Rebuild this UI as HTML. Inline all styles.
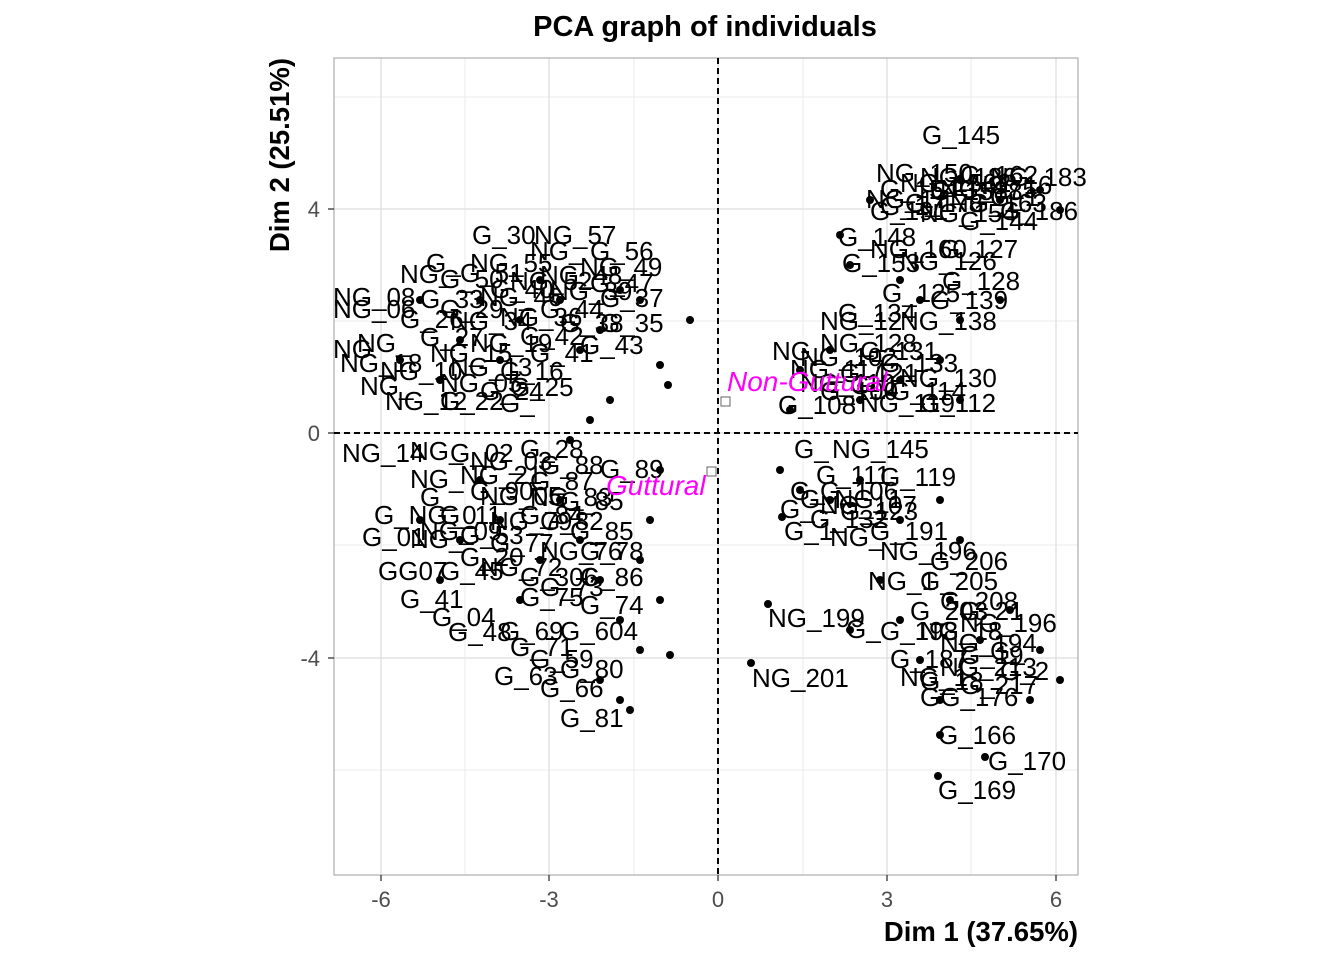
<!DOCTYPE html>
<html><head><meta charset="utf-8"><style>
body{margin:0;background:#fff}
svg{display:block;font-family:"Liberation Sans",Arial,sans-serif}
.l{font-size:26px;fill:#000}
.t{font-size:22px;fill:#4d4d4d}
</style></head><body>
<svg width="1344" height="960" viewBox="0 0 1344 960" xmlns="http://www.w3.org/2000/svg">
<rect width="1344" height="960" fill="#fff"/>
<g stroke="#ebebeb" stroke-width="1">
<line x1="465" y1="58" x2="465" y2="875"/><line x1="634" y1="58" x2="634" y2="875"/><line x1="803" y1="58" x2="803" y2="875"/><line x1="971" y1="58" x2="971" y2="875"/>
<line x1="334" y1="97" x2="1078" y2="97"/><line x1="334" y1="321" x2="1078" y2="321"/><line x1="334" y1="545" x2="1078" y2="545"/><line x1="334" y1="770" x2="1078" y2="770"/>
</g>
<g stroke="#dedede" stroke-width="1.3">
<line x1="381" y1="58" x2="381" y2="875"/><line x1="549" y1="58" x2="549" y2="875"/><line x1="718" y1="58" x2="718" y2="875"/><line x1="887" y1="58" x2="887" y2="875"/><line x1="1056" y1="58" x2="1056" y2="875"/>
<line x1="334" y1="209" x2="1078" y2="209"/><line x1="334" y1="433" x2="1078" y2="433"/><line x1="334" y1="658" x2="1078" y2="658"/>
</g>
<rect x="334" y="58" width="744" height="817" fill="none" stroke="#b3b3b3" stroke-width="1.3"/>
<g stroke="#000" stroke-width="2" stroke-dasharray="6,4">
<line x1="718" y1="58" x2="718" y2="875"/><line x1="334" y1="433" x2="1078" y2="433"/>
</g>
<g fill="#000">
<circle cx="690" cy="320" r="4"/><circle cx="668" cy="385" r="4"/><circle cx="660" cy="365" r="4"/><circle cx="640" cy="300" r="4"/><circle cx="620" cy="290" r="4"/><circle cx="600" cy="330" r="4"/><circle cx="580" cy="350" r="4"/><circle cx="560" cy="300" r="4"/><circle cx="540" cy="280" r="4"/><circle cx="520" cy="320" r="4"/><circle cx="500" cy="360" r="4"/><circle cx="480" cy="300" r="4"/><circle cx="460" cy="340" r="4"/><circle cx="440" cy="380" r="4"/><circle cx="420" cy="300" r="4"/><circle cx="400" cy="360" r="4"/><circle cx="590" cy="420" r="4"/><circle cx="610" cy="400" r="4"/><circle cx="570" cy="440" r="4"/>
<circle cx="660" cy="470" r="4"/><circle cx="650" cy="520" r="4"/><circle cx="640" cy="560" r="4"/><circle cx="660" cy="600" r="4"/><circle cx="670" cy="655" r="4"/><circle cx="640" cy="650" r="4"/><circle cx="620" cy="620" r="4"/><circle cx="600" cy="580" r="4"/><circle cx="580" cy="540" r="4"/><circle cx="560" cy="500" r="4"/><circle cx="540" cy="560" r="4"/><circle cx="520" cy="600" r="4"/><circle cx="500" cy="520" r="4"/><circle cx="480" cy="480" r="4"/><circle cx="460" cy="540" r="4"/><circle cx="440" cy="580" r="4"/><circle cx="420" cy="520" r="4"/><circle cx="620" cy="700" r="4"/><circle cx="600" cy="680" r="4"/><circle cx="630" cy="710" r="4"/>
<circle cx="768" cy="604" r="4"/><circle cx="751" cy="663" r="4"/><circle cx="780" cy="470" r="4"/><circle cx="782" cy="517" r="4"/><circle cx="800" cy="490" r="4"/><circle cx="830" cy="500" r="4"/><circle cx="860" cy="480" r="4"/><circle cx="900" cy="520" r="4"/><circle cx="940" cy="500" r="4"/><circle cx="960" cy="540" r="4"/><circle cx="790" cy="410" r="4"/><circle cx="800" cy="370" r="4"/><circle cx="830" cy="350" r="4"/><circle cx="860" cy="400" r="4"/><circle cx="900" cy="380" r="4"/><circle cx="940" cy="360" r="4"/><circle cx="960" cy="400" r="4"/><circle cx="840" cy="235" r="4"/><circle cx="850" cy="265" r="4"/><circle cx="870" cy="200" r="4"/><circle cx="900" cy="280" r="4"/><circle cx="920" cy="300" r="4"/><circle cx="960" cy="320" r="4"/><circle cx="1000" cy="300" r="4"/><circle cx="960" cy="180" r="4"/><circle cx="1000" cy="200" r="4"/><circle cx="1040" cy="190" r="4"/><circle cx="1060" cy="210" r="4"/>
<circle cx="880" cy="580" r="4"/><circle cx="900" cy="620" r="4"/><circle cx="920" cy="660" r="4"/><circle cx="950" cy="600" r="4"/><circle cx="980" cy="640" r="4"/><circle cx="1010" cy="610" r="4"/><circle cx="1040" cy="650" r="4"/><circle cx="1060" cy="680" r="4"/><circle cx="1030" cy="700" r="4"/><circle cx="940" cy="700" r="4"/><circle cx="940" cy="735" r="4"/><circle cx="985" cy="757" r="4"/><circle cx="938" cy="776" r="4"/><circle cx="850" cy="630" r="4"/>
</g>
<g class="l">
<text x="922" y="144">G_145</text>
<text x="876" y="182">NG_150</text><text x="920" y="186">NG_186</text><text x="960" y="184">G_162</text><text x="990" y="186">NG_183</text><text x="880" y="198">G_154</text><text x="940" y="198">NG_175</text><text x="1000" y="220">G_186</text><text x="866" y="208">NG_17</text><text x="905" y="212">G_178</text><text x="950" y="212">NG_163</text><text x="870" y="220">G_191</text><text x="960" y="230">G_144</text>
<text x="900" y="192">NG_1562</text><text x="930" y="200">G_1588</text><text x="970" y="194">NG_16</text><text x="880" y="215">G_17</text><text x="920" y="222">NG_154</text><text x="990" y="206">G_1</text>
<text x="838" y="246">G_148</text><text x="870" y="258">NG_160</text><text x="940" y="258">G_127</text><text x="842" y="272">G_153</text><text x="900" y="270">NG_126</text><text x="942" y="290">G_128</text><text x="882" y="302">G_125</text><text x="930" y="309">G_139</text><text x="838" y="322">G_134</text><text x="900" y="330">NG_138</text>
<text x="820" y="330">NG_12</text><text x="772" y="360">NG_</text><text x="820" y="352">NG_128</text><text x="860" y="360">G_131</text><text x="790" y="378">NG_117</text><text x="880" y="372">G_133</text><text x="900" y="387">NG_130</text><text x="820" y="400">G_100</text><text x="890" y="400">G_114</text><text x="778" y="414">G_108</text><text x="860" y="412">NG_119</text><text x="920" y="412">G_112</text>
<text x="800" y="366">NG_102</text><text x="840" y="382">G_121</text><text x="800" y="392">NG_110</text><text x="850" y="394">G_1</text>
<text x="794" y="458">G_</text><text x="832" y="458">NG_145</text><text x="816" y="484">G_111</text><text x="880" y="486">G_119</text><text x="790" y="500">G_</text><text x="820" y="500">G_106</text><text x="780" y="518">G_</text><text x="820" y="514">NG_107</text><text x="810" y="528">G_132</text><text x="784" y="540">G_1</text><text x="830" y="546">NG_</text><text x="870" y="540">G_191</text>
<text x="800" y="508">G_NG_1</text><text x="840" y="520">G_123</text>
<text x="880" y="560">NG_196</text><text x="930" y="570">G_206</text><text x="868" y="590">NG_1</text><text x="920" y="590">G_205</text><text x="940" y="610">G_208</text><text x="960" y="632">NG_196</text><text x="846" y="638">G_</text><text x="880" y="640">G_198</text><text x="940" y="652">NG_194</text><text x="990" y="660">G_</text><text x="890" y="668">G_187</text><text x="940" y="676">NG_213</text><text x="900" y="686">NG_1</text><text x="960" y="694">G_217</text><text x="920" y="706">GG_176</text>
<text x="910" y="620">G_203</text><text x="960" y="620">G_21</text><text x="920" y="640">NG_18</text><text x="960" y="664">G_19</text><text x="1000" y="680">G_2</text><text x="920" y="690">G_18</text>
<text x="768" y="627">NG_199</text><text x="752" y="687">NG_201</text>
<text x="938" y="744">G_166</text><text x="988" y="770">G_170</text><text x="938" y="799">G_169</text>
<text x="472" y="244">G_30</text><text x="534" y="244">NG_57</text><text x="590" y="260">G_56</text><text x="530" y="260">NG_</text><text x="426" y="272">G_</text><text x="470" y="272">NG_55</text><text x="580" y="276">NG_49</text><text x="400" y="283">NG_</text><text x="440" y="288">G_50</text><text x="510" y="290">NG_52</text><text x="590" y="292">G_47</text><text x="333" y="306">NG_08</text><text x="600" y="307">G_37</text><text x="333" y="318">NG_06</text><text x="420" y="308">G_33</text><text x="480" y="306">NG_46</text><text x="540" y="318">G_44</text><text x="400" y="328">G_26</text><text x="600" y="332">G_35</text><text x="450" y="330">NG_34</text><text x="520" y="345">G_42</text><text x="580" y="354">G_43</text><text x="357" y="352">NG_</text><text x="333" y="358">NG</text><text x="340" y="372">NG_18</text><text x="430" y="362">NG_15</text><text x="500" y="380">G_16</text><text x="360" y="395">NG_</text><text x="440" y="392">NG_05</text><text x="510" y="396">G_25</text><text x="385" y="410">NG_12</text><text x="440" y="410">G_22</text><text x="500" y="412">G_</text>
<text x="460" y="282">G_51</text><text x="540" y="284">NG_48</text><text x="490" y="298">G_40</text><text x="550" y="300">NG_39</text><text x="440" y="318">G_29</text><text x="500" y="326">NG_36</text><text x="560" y="332">G_38</text><text x="420" y="346">G_27</text><text x="470" y="352">NG_19</text><text x="530" y="362">G_41</text><text x="450" y="376">NG_13</text><text x="380" y="380">NG_10</text><text x="480" y="400">G_24</text>
<text x="342" y="462">NG_14</text><text x="410" y="460">NG_</text><text x="450" y="462">G_02</text><text x="520" y="458">G_28</text><text x="600" y="478">G_89</text><text x="410" y="488">NG_</text><text x="460" y="484">NG_21</text><text x="530" y="490">G_87</text><text x="420" y="506">G_</text><text x="480" y="505">NG_05</text><text x="560" y="510">G_85</text><text x="374" y="524">G_NG_0</text><text x="520" y="524">G_84</text><text x="362" y="546">G_01</text><text x="410" y="548">NG_</text><text x="460" y="544">G_53</text><text x="570" y="540">G_85</text><text x="460" y="566">G_20</text><text x="540" y="560">NG_76</text><text x="378" y="580">GG07</text><text x="440" y="580">G_45</text><text x="520" y="586">G_306</text><text x="580" y="586">G_86</text><text x="400" y="608">G_41</text><text x="520" y="606">G_75</text><text x="580" y="614">G_74</text><text x="432" y="626">G_04</text><text x="448" y="641">G_48</text><text x="500" y="640">G_69</text><text x="560" y="640">G_604</text><text x="510" y="656">G_71</text><text x="530" y="668">G_59</text><text x="494" y="685">G_63</text><text x="560" y="678">G_80</text><text x="540" y="697">G_66</text><text x="560" y="727">G_81</text>
<text x="470" y="500">G_90</text><text x="530" y="506">NG_83</text><text x="440" y="524">G_11</text><text x="490" y="530">NG_79</text><text x="540" y="530">G_82</text><text x="420" y="540">NG_09</text><text x="490" y="552">G_77</text><text x="580" y="560">G_78</text><text x="480" y="576">NG_72</text><text x="540" y="596">G_73</text><text x="470" y="470">NG_03</text><text x="540" y="474">G_88</text>
</g>
<g font-size="28" font-style="italic" fill="#ff00ff">
<text x="727" y="391">Non-Guttural</text><text x="606" y="495">Guttural</text>
</g>
<rect x="721" y="397" width="9" height="9" fill="#fff" stroke="#666"/>
<rect x="707" y="467" width="9" height="9" fill="#fff" stroke="#666"/>
<g class="t" text-anchor="middle">
<text x="381" y="907">-6</text><text x="549" y="907">-3</text><text x="718" y="907">0</text><text x="887" y="907">3</text><text x="1056" y="907">6</text>
</g>
<g class="t" text-anchor="end">
<text x="320" y="217">4</text><text x="320" y="441">0</text><text x="320" y="666">-4</text>
</g>
<g stroke="#333" stroke-width="1.3">
<line x1="381" y1="875" x2="381" y2="881"/><line x1="549" y1="875" x2="549" y2="881"/><line x1="718" y1="875" x2="718" y2="881"/><line x1="887" y1="875" x2="887" y2="881"/><line x1="1056" y1="875" x2="1056" y2="881"/>
<line x1="328" y1="209" x2="334" y2="209"/><line x1="328" y1="433" x2="334" y2="433"/><line x1="328" y1="658" x2="334" y2="658"/>
</g>
<text x="705" y="36" font-size="29" font-weight="bold" text-anchor="middle">PCA graph of individuals</text>
<text x="1078" y="941" font-size="27.5" font-weight="bold" text-anchor="end">Dim 1 (37.65%)</text>
<text transform="translate(289,58) rotate(-90)" font-size="27.5" font-weight="bold" text-anchor="end">Dim 2 (25.51%)</text>
</svg>
</body></html>
